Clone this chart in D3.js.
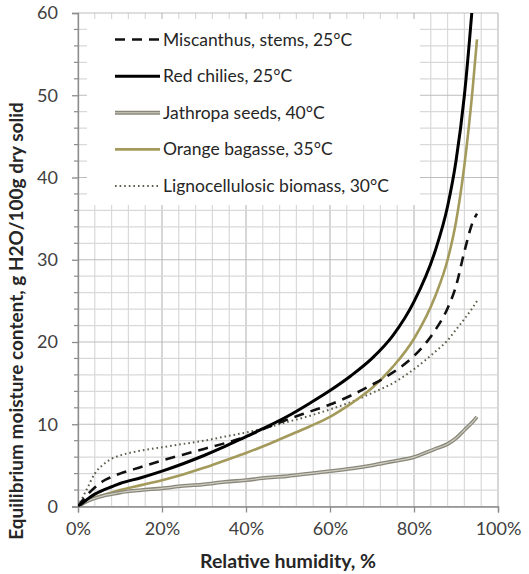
<!DOCTYPE html>
<html>
<head>
<meta charset="utf-8">
<script src="https://cdn.jsdelivr.net/npm/d3@7"></script>
<style>
  body { margin: 0; background: #fff; }
  text { font-family: Lato, "Open Sans", sans-serif; }
</style>
</head>
<body>
<svg id="chart" width="529" height="574"></svg>
<script>
// relative humidity (%) at which each curve was read
const rh = [0, 2, 4, 6, 8, 10, 15, 20, 25, 30, 35, 40, 45, 50, 55, 60, 65, 70, 75, 80, 85, 88, 90, 92, 94, 95];

// equilibrium moisture content, g H2O / 100 g dry solid
const miscanthus = [0, 1.3, 2.3, 3.1, 3.6, 4.0, 4.8, 5.6, 6.3, 7.0, 7.7, 8.5, 9.6, 10.6, 11.5, 12.4, 13.5, 14.8, 16.3, 18.3, 21.4, 24.1, 26.8, 31.0, 34.6, 35.6];
const redChilies = [0, 0.8, 1.5, 2.0, 2.4, 2.8, 3.5, 4.3, 5.2, 6.2, 7.3, 8.5, 9.7, 11.0, 12.5, 14.1, 15.9, 18.0, 20.8, 24.9, 31.0, 36.5, 42.0, 50.0, 61.5, 68];
const jathropa = [0, 0.6, 1.0, 1.3, 1.5, 1.7, 2.0, 2.2, 2.5, 2.7, 3.0, 3.2, 3.5, 3.7, 4.0, 4.3, 4.6, 5.0, 5.5, 6.0, 7.0, 7.6, 8.3, 9.3, 10.3, 10.9];
const orangeBagasse = [0, 0.6, 1.1, 1.4, 1.7, 2.0, 2.6, 3.2, 3.9, 4.7, 5.6, 6.5, 7.5, 8.6, 9.7, 10.9, 12.5, 14.4, 17.0, 20.4, 25.5, 30.0, 34.6, 41.5, 51.0, 56.8];
const lignocellulosic = [0, 2.0, 4.0, 5.1, 5.8, 6.2, 6.8, 7.2, 7.6, 8.0, 8.5, 9.0, 9.6, 10.3, 11.0, 11.8, 12.7, 13.8, 15.0, 16.7, 18.8, 20.2, 21.5, 22.8, 24.2, 25.0];

const seriesNames = ["Miscanthus, stems, 25°C", "Red chilies, 25°C", "Jathropa seeds, 40°C", "Orange bagasse, 35°C", "Lignocellulosic biomass, 30°C"];

const xTicks = [0, 20, 40, 60, 80, 100];
const yTicks = [0, 10, 20, 30, 40, 50, 60];

const svg = d3.select("#chart");
const plotL = 78, plotR = 498, plotT = 13, plotB = 506.5;

let x = d3.scaleLinear().domain([0, 100]).range([plotL, plotR]);
let y = d3.scaleLinear().domain([0, 60]).range([plotB, plotT]);

// grid: minor then major
let grid = svg.append("g");
grid.selectAll("line.mx").data(d3.range(0, 101, 4)).join("line")
  .attr("class", "mx")
  .attr("x1", d => x(d)).attr("x2", d => x(d))
  .attr("y1", plotT).attr("y2", plotB)
  .attr("stroke", d => d % 20 == 0 ? "#bdbdbd" : "#d9d9d9").attr("stroke-width", 1.2);
grid.selectAll("line.my").data(d3.range(0, 61, 2)).join("line")
  .attr("class", "my")
  .attr("y1", d => y(d)).attr("y2", d => y(d))
  .attr("x1", plotL).attr("x2", plotR)
  .attr("stroke", d => d % 10 == 0 ? "#bdbdbd" : "#d9d9d9").attr("stroke-width", 1.2);

// axes
let xAxis = d3.axisBottom(x).tickValues(xTicks).tickSize(6).tickPadding(10)
  .tickFormat(d => d + "%");
svg.append("g").attr("transform", "translate(0," + plotB + ")").call(xAxis)
  .call(g => g.select(".domain").attr("stroke", "#8c8c8c").attr("stroke-width", 1.3))
  .call(g => g.selectAll(".tick line").attr("stroke", "#8c8c8c").attr("stroke-width", 1.3))
  .call(g => g.selectAll("text").attr("font-size", 18).attr("fill", "#404040")
    .attr("font-family", "Lato, sans-serif"));

// minor ticks on the y axis
svg.append("g").selectAll("line").data(d3.range(0, 61, 2).filter(d => d % 10 != 0)).join("line")
  .attr("x1", plotL - 4).attr("x2", plotL)
  .attr("y1", d => y(d)).attr("y2", d => y(d))
  .attr("stroke", "#8c8c8c").attr("stroke-width", 1.2);

let yAxis = d3.axisLeft(y).tickValues(yTicks).tickSize(6).tickPadding(14);
svg.append("g").attr("transform", "translate(" + plotL + ",0)").call(yAxis)
  .call(g => g.select(".domain").attr("stroke", "#8c8c8c").attr("stroke-width", 1.3))
  .call(g => g.selectAll(".tick line").attr("stroke", "#8c8c8c").attr("stroke-width", 1.3))
  .call(g => g.selectAll("text").attr("font-size", 18).attr("fill", "#404040")
    .attr("font-family", "Lato, sans-serif"));

// axis titles
svg.append("text")
  .attr("x", (plotL + plotR) / 2).attr("y", 568)
  .attr("text-anchor", "middle").attr("font-weight", "bold").attr("font-size", 19.5)
  .attr("fill", "#262626").text("Relative humidity, %");
svg.append("text")
  .attr("transform", "translate(23," + 321 + ") rotate(-90)")
  .attr("text-anchor", "middle").attr("font-weight", "bold").attr("font-size", 19)
  .attr("fill", "#262626").text("Equilibrium moisture content, g H2O/100g dry solid");

// legend background covers the grid
svg.append("rect").attr("x", 87).attr("y", 19).attr("width", 333).attr("height", 186).attr("fill", "#fff");

svg.append("clipPath").attr("id", "plotClip").append("rect")
  .attr("x", plotL).attr("y", plotT).attr("width", plotR - plotL).attr("height", plotB - plotT);

let line = d3.line().x((d, i) => x(rh[i])).y(d => y(d)).curve(d3.curveMonotoneX);

let styles = [
  { data: miscanthus, color: "#111", width: 2.6, dash: "10,7" },
  { data: redChilies, color: "#000", width: 3, dash: null },
  { data: jathropa, color: "#8a887a", width: 3.8, dash: null, inner: "#cfcdc2" },
  { data: orangeBagasse, color: "#a39a5c", width: 2.6, dash: null },
  { data: lignocellulosic, color: "#5f5e4c", width: 2, dash: "1.6,3" }
];

let plot = svg.append("g").attr("clip-path", "url(#plotClip)");
[4, 3, 2, 0, 1].forEach(function (k) {
  let s = styles[k];
  plot.append("path").attr("d", line(s.data)).attr("fill", "none")
    .attr("stroke", s.color).attr("stroke-width", s.width)
    .attr("stroke-dasharray", s.dash);
  if (s.inner) {
    plot.append("path").attr("d", line(s.data)).attr("fill", "none")
      .attr("stroke", s.inner).attr("stroke-width", 1.2);
  }
});

// legend entries
let legend = svg.append("g");
let ly = d3.scalePoint().domain(seriesNames).range([39.5, 186]);
seriesNames.forEach(function (name, i) {
  let s = styles[i];
  legend.append("line").attr("x1", 115).attr("x2", 160)
    .attr("y1", ly(name)).attr("y2", ly(name))
    .attr("stroke", s.color).attr("stroke-width", s.width)
    .attr("stroke-dasharray", s.dash);
  if (s.inner) {
    legend.append("line").attr("x1", 115).attr("x2", 160)
      .attr("y1", ly(name)).attr("y2", ly(name))
      .attr("stroke", s.inner).attr("stroke-width", 1.2);
  }
  legend.append("text").attr("x", 163).attr("y", ly(name) + 6)
    .attr("font-size", 17.5).attr("fill", "#262626").text(name);
});
</script>
</body>
</html>
